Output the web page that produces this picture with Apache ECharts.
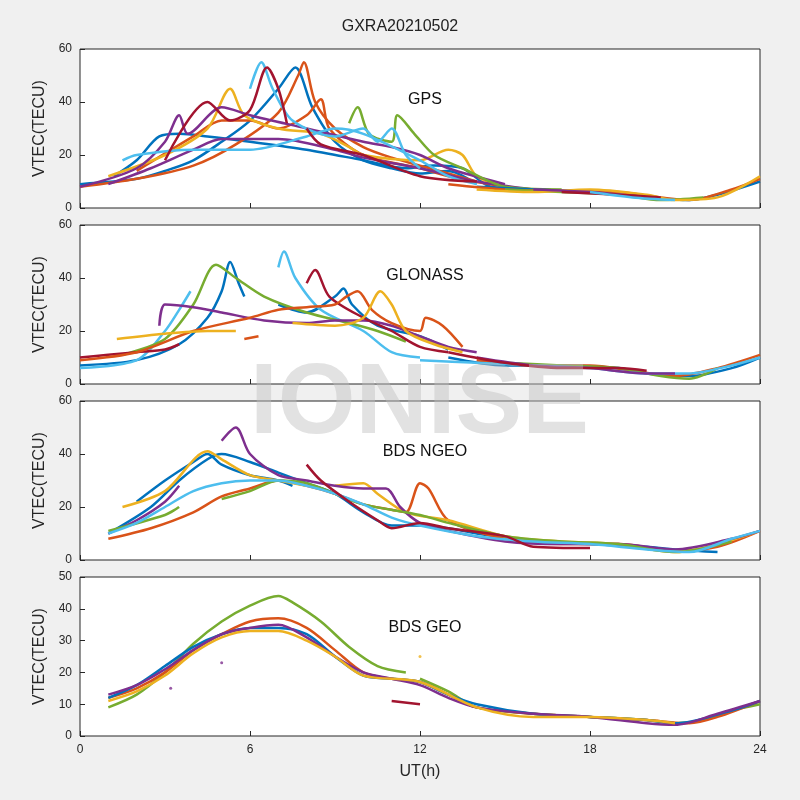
<!DOCTYPE html>
<html><head><meta charset="utf-8">
<script src="https://cdn.jsdelivr.net/npm/echarts@6/dist/echarts.min.js"></script>
<style>html,body{margin:0;background:#f0f0f0}#c{width:800px;height:800px}</style>
</head><body><div id="c"></div>
<script>
var colors = ['#0072BD','#D95319','#EDB120','#7E2F8E','#77AC30','#4DBEEE','#A2142F'];
var panelNames = ['GPS','GLONASS','BDS NGEO','BDS GEO'];
var yMax = [60,60,60,50];
var xTicks = [0,6,12,18,24];

// arcs: [colourIndex, [[UT hour, VTEC], ...]]
var gpsArcs = [
  [0,[[0,9],[2,11],[3,14],[4,18],[5,25],[6,33],[7,45],[7.6,53],[8.2,38],[9,25],[10,18],[11,15],[12,13],[13,14],[14,9]]],
  [0,[[1.2,12],[2,18],[2.8,27],[3.5,28],[4.5,27],[6,25],[8,22],[10,18],[11.5,15],[12.5,16],[13.5,15],[14.5,8],[16,7]]],
  [1,[[0,8],[2,11],[4,16],[5.5,24],[7,36],[7.7,50],[7.9,55],[8.3,40],[9,30],[10,23],[11,19],[12,16],[13,13],[14,10]]],
  [1,[[2,14],[4,27],[5,33],[6,33],[7,30],[8,35],[8.5,41],[8.8,30],[10,20],[12,15],[13,12],[15,8],[16,7]]],
  [2,[[1,12],[3,20],[4.5,30],[5.3,45],[5.8,35],[7,30],[8.5,28],[9.5,23],[10,20],[12,18],[13,22],[13.5,20],[14,12],[15,8]]],
  [3,[[0,8],[2,15],[3,25],[3.5,35],[3.8,28],[5,38],[6,35],[8,30],[10,25],[11,23],[12,20],[13,15],[15,9]]],
  [3,[[1,9],[2.5,15],[4,22],[5,26],[7,26],[9,22],[10,19],[12,15],[14,10],[16,7]]],
  [4,[[9.5,32],[9.8,38],[10.2,28],[11,25],[11.2,35],[11.8,28],[12.5,20],[13.5,15],[15,8],[17,7]]],
  [5,[[6,45],[6.4,55],[6.8,45],[7.5,33],[9,27],[10,30],[10.5,25],[11,30],[11.5,20],[12,15]]],
  [5,[[1.5,18],[2,20],[4,22],[6,22],[8,27],[9,30],[10,28],[12,18],[13,12],[14,9]]],
  [6,[[3,18],[4.5,40],[5.3,33],[6,37],[6.6,53],[7,45],[7.3,32]]],
  [6,[[8,30],[8.5,24],[10,20],[12,12],[14,10]]],
  [0,[[14,8],[16,7],[18,6],[20,4],[21.5,3],[22.5,5],[24,10]]],
  [1,[[13,9],[15,7],[17,6.5],[19,6],[20.5,4],[21.5,3],[23,7],[24,11]]],
  [4,[[15,7],[17,6],[19,5],[20.5,3],[22,4]]],
  [2,[[14,7],[16,6],[18,7],[20,5],[21,3],[22.5,4],[24,12]]],
  [3,[[16,7],[18,6],[20,4]]],
  [6,[[17,6],[19,5],[20.5,4]]],
  [5,[[18,6],[19.5,4],[21,3]]]
];
var glonassArcs = [
  [0,[[0,7],[2,9],[3.5,15],[4.5,25],[5,35],[5.3,46],[5.6,38],[5.8,33]]],
  [0,[[7,30],[8,27],[9,33],[9.3,36],[9.6,30],[10.5,22],[12,18],[13,13]]],
  [5,[[0,6],[2,9],[3,20],[3.5,28],[3.9,35]]],
  [5,[[7,44],[7.2,50],[7.6,40],[8.5,28],[10,20],[11,12],[12,10]]],
  [4,[[1.5,11],[3,17],[4,30],[4.8,45],[5.5,40],[6.5,33],[8,27],[9.5,23],[10.5,20],[11.5,16]]],
  [3,[[2.8,22],[3,30],[4,29],[5,27],[6.5,24],[8,23],[9,24],[10,24],[11,22],[12,18],[13,14],[14,12]]],
  [6,[[0,10],[1,11],[2,12],[3,13],[3.5,15]]],
  [6,[[8,38],[8.3,43],[8.8,33],[10,25],[11,20],[12,14],[13,12]]],
  [1,[[0,9],[2,12],[4,20],[6,25],[7,28],[8,29],[9,30],[9.4,33],[9.8,35],[10.3,28],[11,23],[12,20],[12.2,25],[12.8,22],[13.5,14]]],
  [2,[[1.3,17],[3,19],[4.5,20],[5.5,20]]],
  [2,[[7.5,23],[9,22],[10,25],[10.6,35],[11,30],[11.5,20],[12.5,15],[13.5,12]]],
  [1,[[5.8,17],[6.3,18]]],
  [0,[[13,10],[15,7],[17,7],[19,6],[20,4],[21.5,3],[23,6],[24,10]]],
  [1,[[14,9],[16,7],[18,7],[19.5,5],[21,3],[22.5,6],[24,11]]],
  [4,[[15,8],[17,7],[19,6],[20.5,3],[21.5,2],[22.5,6]]],
  [5,[[12,9],[14,8],[16,7],[18,6],[20,4],[21.5,4],[23,7],[24,10]]],
  [3,[[14,10],[16,7],[18,6],[20,4],[21,4]]],
  [6,[[13,12],[15,8],[17,6],[19,6],[20,5]]]
];
var ngeoArcs = [
  [0,[[1,10],[2.5,20],[3.5,30],[4.5,38],[5,40],[6,37],[7,33],[8,29],[9,25],[10,18],[11,13],[12,13],[13,12],[14,10],[16,7],[18,6],[20,5],[21,4],[22.5,3]]],
  [0,[[2,22],[3,30],[4,37],[4.5,40],[5,36],[6,32],[7,30],[7.5,28]]],
  [1,[[1,8],[2.5,12],[4,18],[5,24],[6,27],[7,30],[8,28],[9,25],[10,21],[11,19],[11.5,18],[12,29],[12.3,27],[13,15],[15,8],[17,6],[19,6],[21,3.5],[22.5,5],[24,11]]],
  [2,[[1.5,20],[3,26],[4.5,41],[5,38],[6,32],[7,30],[8,28]]],
  [2,[[9,28],[10,29],[10.5,25],[11.5,18],[13,15],[15,9],[17,7],[19,6],[21,3],[24,11]]],
  [3,[[1,10],[2,15],[3,22],[3.5,28]]],
  [3,[[5,45],[5.5,50],[6,40],[7,32],[8,30],[9,28],[10,27],[10.8,27],[11.3,20],[12,14],[13,11],[15,7],[17,6],[19,6],[21,4],[23,8],[24,11]]],
  [4,[[1,11],[3,17],[3.5,20]]],
  [4,[[5,23],[6,26],[7,30],[8,29],[9,25],[10,21],[12,17],[13,14],[15,9],[17,7],[19,6],[21,3],[23,7]]],
  [5,[[1,10],[2,14],[3,20],[4,26],[5,29],[6,30],[7,30],[8,28],[9,25],[10,21],[11,16],[12,13],[14,9],[16,7],[18,6],[20,4],[21.5,3],[23,8],[24,11]]],
  [6,[[8,36],[8.5,30],[9.5,22],[10.5,15],[11,12],[12,14],[13,12],[15,9],[16,5],[18,4.5]]]
];
var geoArcs = [
  [4,[[1,9],[2,13],[3,20],[4,29],[5,36],[6,41],[7,44],[7.5,42],[8.5,36],[9.5,28],[10.5,22],[11.5,20]]],
  [4,[[12,18],[13,14],[14,9],[16,7],[18,6],[20,5],[21,4],[22,5],[23,8],[24,10]]],
  [1,[[1,12],[2,15],[3,20],[4,27],[5,32],[6,36],[7,37],[8,34],[9,27],[10,20],[11,18],[12,17],[13,13],[14,9],[16,7],[18,6],[20,5],[21.5,4],[22.5,6],[24,11]]],
  [0,[[1,12],[2,16],[3,22],[4,28],[5,32],[6,34],[7,34],[8,32],[9,25],[10,19],[11,18],[12,17],[13,13],[14,10],[16,7],[18,6],[20,5],[21,4],[23,8],[24,11]]],
  [3,[[1,13],[2,16],[3,21],[4,27],[5,32],[6,34],[7,35],[8,31],[9,25],[10,20],[11,18],[12,16],[13,12],[14,9],[16,7],[18,6],[20,4],[21,3.5],[22.5,7],[24,11]]],
  [2,[[1,11],[2,14],[3,19],[4,26],[5,31],[6,33],[7,33],[8,30],[9,25],[10,19],[12,17],[14,9],[16,6],[18,6],[20,5],[21,4]]],
  [6,[[11,11],[12,10]]]
];
var geoDots = [[3,[3.2,15]],[3,[5,23]],[2,[12,25]]];

var panels = [gpsArcs, glonassArcs, ngeoArcs, geoArcs];
var tops = [49,225,401,577];
var grid = [], xAxis = [], yAxis = [], series = [], title = [];
title.push({text:'GXRA20210502', left:'center', top:14, textStyle:{fontSize:16, fontWeight:'normal', color:'#222', fontFamily:'Liberation Sans'}});
panels.forEach(function(arcs, p){
  grid.push({left:80, right:40, top:tops[p], height:159, show:true, backgroundColor:'#fff', borderColor:'#262626', borderWidth:1});
  xAxis.push({type:'value', gridIndex:p, min:0, max:24, interval:6,
    axisLine:{show:false}, axisTick:{inside:true, length:5, lineStyle:{color:'#262626'}},
    axisLabel:{show:p===3, fontSize:12, color:'#262626'}, splitLine:{show:false},
    name:p===3?'UT(h)':'', nameLocation:'middle', nameGap:28, nameTextStyle:{fontSize:16, color:'#262626'}});
  yAxis.push({type:'value', gridIndex:p, min:0, max:yMax[p], interval:yMax[p]===60?20:10,
    axisLine:{show:false}, axisTick:{inside:true, length:5, lineStyle:{color:'#262626'}},
    axisLabel:{fontSize:12, color:'#262626'}, splitLine:{show:false},
    name:'VTEC(TECU)', nameLocation:'middle', nameGap:26, nameTextStyle:{fontSize:16, color:'#262626'}});
  arcs.forEach(function(a){
    series.push({type:'line', xAxisIndex:p, yAxisIndex:p, data:a[1], smooth:0.3, showSymbol:false,
      lineStyle:{width:2.5, color:colors[a[0]]}, itemStyle:{color:colors[a[0]]}, silent:true, animation:false});
  });
  title.push({text:panelNames[p], left:420, top:tops[p]+38, textAlign:'center', textStyle:{fontSize:16, fontWeight:'normal', color:'#111', fontFamily:'Liberation Sans'}});
});
geoDots.forEach(function(d){
  series.push({type:'scatter', xAxisIndex:3, yAxisIndex:3, data:[d[1]], symbolSize:3, itemStyle:{color:colors[d[0]]}, animation:false});
});
var chart = echarts.init(document.getElementById('c'));
chart.setOption({
  backgroundColor:'#f0f0f0', textStyle:{fontFamily:'Liberation Sans'},
  title:title, grid:grid, xAxis:xAxis, yAxis:yAxis, series:series,
  graphic:[{type:'text', left:250, top:355, z:100, style:{text:'IONISE', fontSize:100, fontWeight:'bold', fill:'rgba(190,190,190,0.45)', fontFamily:'Liberation Sans'}}]
});
</script></body></html>
